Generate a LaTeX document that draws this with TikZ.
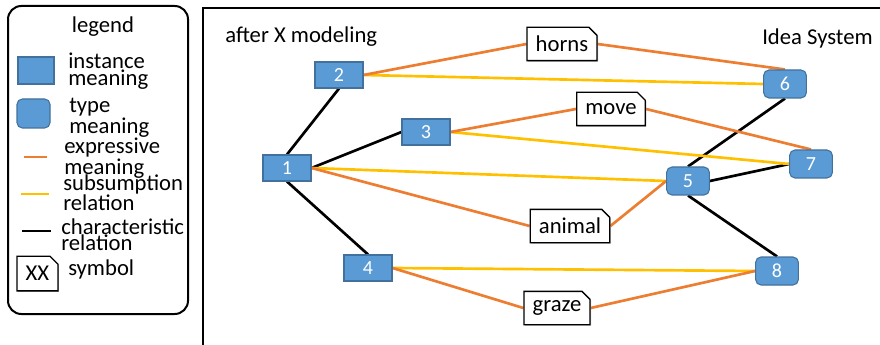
\documentclass[tikz,border=0pt]{standalone}
\usepackage{fontspec}
\setmainfont{Carlito}
\usetikzlibrary{positioning,shapes.misc,shadows,backgrounds}

\definecolor{nodeblue}{RGB}{91,155,213}
\definecolor{nodeedge}{RGB}{65,113,156}
\definecolor{exporange}{RGB}{237,125,49}
\definecolor{subyellow}{RGB}{255,192,0}

\begin{document}
\begin{tikzpicture}[x=0.75pt, y=-0.75pt, font=\fontsize{17}{12.4}\selectfont,
    instnode/.style={draw=nodeedge, line width=0.8pt, fill=nodeblue, text=white, inner sep=0pt,
        minimum width=36pt, minimum height=19.5pt, font=\fontsize{15}{15}\selectfont},
    typenode/.style={instnode, rounded corners=4pt, minimum width=32pt, minimum height=21pt},
    symbnode/.style={draw, line width=1pt, fill=white, chamfered rectangle,
        chamfered rectangle corners=north east, chamfered rectangle xsep=3pt, chamfered rectangle ysep=3pt,
        inner xsep=3.5pt, minimum height=25pt,
        drop shadow={shadow xshift=0.8pt, shadow yshift=-0.8pt, fill=black!45, opacity=0.6}},
    legtext/.style={anchor=north west, align=left, inner sep=0pt},
    expr/.style={exporange, line width=2pt},
    subs/.style={subyellow, line width=2pt},
    char/.style={black, line width=2pt}]
    \useasboundingbox (0,0) rectangle (880,345);

    % legend
    \draw[line width=1.5pt, rounded corners=10pt] (8,6) rectangle (188,314);
    \node[anchor=base, inner sep=0pt] (legtitle) at (103,33) {legend};
    \draw[draw=nodeedge, line width=0.8pt, fill=nodeblue] (18,57) rectangle (54,84);
    \node[legtext] (leginst) at (68,53) {instance\\meaning};
    \draw[draw=nodeedge, line width=0.8pt, fill=nodeblue, rounded corners=4pt] (17,99) rectangle (50,128);
    \node[legtext] (legtype) at (69,98) {type\\meaning};
    \draw[expr] (24,157) -- (47,157);
    \node[legtext] (legexpr) at (64,138) {expressive\\meaning};
    \draw[subs] (21,194) -- (49,194);
    \node[legtext] (legsubs) at (63,174) {subsumption\\relation};
    \draw[char] (22,231) -- (51,231);
    \node[legtext] (legchar) at (61,218) {characteristic\\relation};
    \node[symbnode, minimum width=25pt, minimum height=26pt] (legsymb) at (37.5,273.5) {XX};
    \node[anchor=base west, inner sep=0pt] (legsymbtext) at (68,275) {symbol};

    % frame of the diagram
    \draw[line width=2pt] (203,345) |- (880,8);
    \node[anchor=base west, inner sep=0pt] (leftname) at (225,43) {after X modeling};
    \node[anchor=base west, inner sep=0pt] (rightname) at (762,45) {Idea System};

    % meanings
    \node[instnode] (n1) at (287,168) {1};
    \node[instnode] (n2) at (339,75) {2};
    \node[instnode] (n3) at (426,132) {3};
    \node[instnode] (n4) at (368,268) {4};
    \node[typenode] (n5) at (688,181) {5};
    \node[typenode] (n6) at (785,84) {6};
    \node[typenode] (n7) at (811,164) {7};
    \node[typenode] (n8) at (777,271) {8};

    % symbols
    \node[symbnode] (horns) at (562,44) {horns};
    \node[symbnode] (move) at (611,109) {move};
    \node[symbnode] (animal) at (570,226) {animal};
    \node[symbnode] (graze) at (557,308) {graze};

    \begin{scope}[on background layer]
        \draw[char] (n1.north) -- (n2.south);
        \draw[char] (n1.east) -- (n3.west);
        \draw[char] (n1.south) -- (n4.north);
        \draw[char] (n5.north) -- (n6.south);
        \draw[char] (n5.east) -- (n7.west);
        \draw[char] (n5.south) -- (n8.north);

        \draw[subs] (n2.east) -- (n6.west);
        \draw[subs] (n3.east) -- (n7.west);
        \draw[subs] (n1.east) -- (n5.west);
        \draw[subs] (n4.east) -- (n8.west);

        \draw[expr] (n2.east) -- (horns.west);
        \draw[expr] (horns.east) -- (n6.north);
        \draw[expr] (n3.east) -- (move.west);
        \draw[expr] (move.east) -- (n7.north);
        \draw[expr] (n1.east) -- (animal.west);
        \draw[expr] (animal.east) -- (n5.west);
        \draw[expr] (n4.east) -- (graze.west);
        \draw[expr] (graze.east) -- (n8.west);
    \end{scope}
\end{tikzpicture}
\end{document}
